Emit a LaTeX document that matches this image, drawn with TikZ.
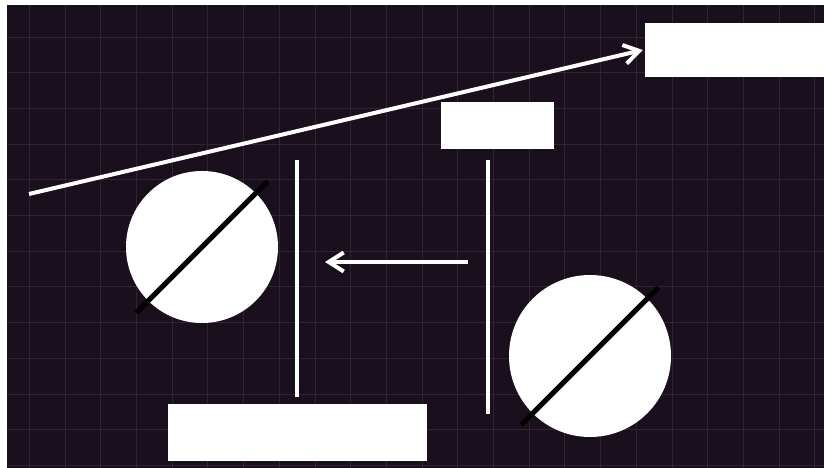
\documentclass[tikz,border=0pt]{standalone}
\usepackage{tikz}
\usetikzlibrary{arrows.meta,calc}
\definecolor{bgdark}{RGB}{26,15,28}
\definecolor{gridline}{RGB}{48,36,50}
\begin{document}
\begin{tikzpicture}[x=1pt,y=1pt,
    whitebox/.style={rectangle,fill=white,inner sep=0pt},
    lens/.style={circle,fill=white,inner sep=0pt},
    post/.style={white,line width=4.5pt},
    ray/.style={white,line width=4pt,-{Straight Barb[length=15pt,width=19pt]}}]
      \useasboundingbox (0,0) rectangle (824,468);
      % Background
      \fill[white] (0,0) rectangle (824,468);
      \fill[bgdark] (7,0) rectangle (824,463);
      % Grid
      \foreach \k in {0,...,22}
        \draw[gridline,line width=0.8pt] ({29.3+35.7*\k},0) -- ({29.3+35.7*\k},463);
      \foreach \k in {1,...,13}
        \draw[gridline,line width=0.8pt] (7,{466.7-35.7*\k}) -- (824,{466.7-35.7*\k});
      % Boxes
      \node[whitebox,minimum width=179pt,minimum height=54pt] (outbox) at (734.5,418) {};
      \node[whitebox,minimum width=113pt,minimum height=47pt] (topbox) at (497.5,342.5) {};
      \node[whitebox,minimum width=259pt,minimum height=57pt] (basebox) at (297.5,35.5) {};
      % Lenses
      \node[lens,minimum size=152pt] (lensA) at (202,221) {};
      \node[lens,minimum size=162pt] (lensB) at (590,112) {};
      \draw[black,line width=5pt] ($(lensA.center)+(225:93)$) -- ($(lensA.center)+(45:93)$);
      \draw[black,line width=5pt] ($(lensB.center)+(225:97)$) -- ($(lensB.center)+(45:97)$);
      % Posts
      \coordinate (postAtop) at (297,308);
      \coordinate (postAbot) at (297,71);
      \coordinate (postBtop) at (488,308);
      \coordinate (postBbot) at (488,54);
      \draw[post] (postAtop) -- (postAbot);
      \draw[post] (postBtop) -- (postBbot);
      % Rays
      \coordinate (raystart) at (29,274);
      \draw[ray] (raystart) -- ($(outbox.west)+(-2,0)$);
      \coordinate (backstart) at (468,206);
      \coordinate (backend) at (325,206);
      \draw[ray] (backstart) -- (backend);
    \end{tikzpicture}
\end{document}
